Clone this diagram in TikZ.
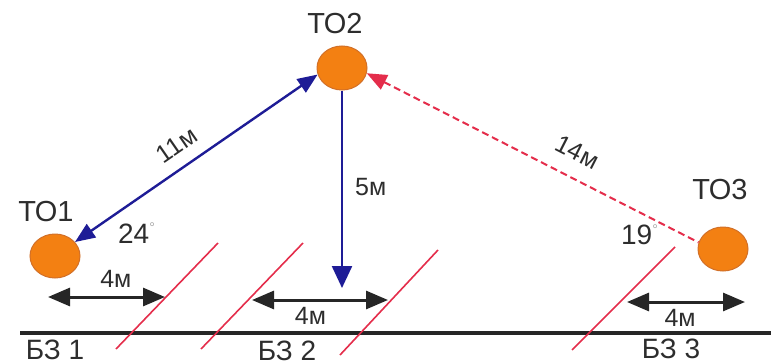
\documentclass[tikz,border=0pt]{standalone}
\usepackage{fontspec}
\setmainfont{Liberation Sans}
\usetikzlibrary{arrows.meta,positioning,shapes.geometric}
\definecolor{toOrange}{RGB}{243,128,18}
\definecolor{toEdge}{RGB}{210,112,40}
\definecolor{lnBlue}{RGB}{30,28,150}
\definecolor{lnRed}{RGB}{228,45,75}
\definecolor{txGray}{RGB}{45,45,45}

\begin{document}
\begin{tikzpicture}[
  x=0.5pt, y=-0.5pt,
  font=\fontsize{12.5}{14}\selectfont,
  tonode/.style={ellipse, fill=toOrange, draw=toEdge, line width=0.5pt,
    minimum width=25pt, minimum height=22pt, inner sep=0pt},
  lbl/.style={text=txGray, inner sep=1pt},
  bigtxt/.style={lbl, font=\fontsize{14.5}{16}\selectfont},
  way/.style={lnBlue, line width=1.2pt},
  crossln/.style={lnRed, line width=0.8pt},
  dimarrow/.style={black!85, line width=1.5pt,
    {Triangle[length=11pt,width=9pt]}-{Triangle[length=11pt,width=9pt]}}
]
\useasboundingbox (0,0) rectangle (771,364);
\def\deg{\textsuperscript{\scriptsize\color{gray!70}°}}

% points of service
\node[tonode] (to1) at (55,256) {};
\node[tonode] (to2) at (342,68) {};
\node[tonode] (to3) at (723,249) {};
\node[bigtxt] (t1) at (46,212) {ТО1};
\node[bigtxt] (t2) at (335,24) {ТО2};
\node[bigtxt] (t3) at (720,190) {ТО3};

% ground line and crossings
\draw[line width=2pt, black!85] (20,333) -- (771,333);
\foreach \a/\b/\c/\d in {116/349/218/243, 201/349/303/243,
  340/355/438/250, 572/350/675/247}
  \draw[crossln] (\a,\b) -- (\c,\d);

% routes
\draw[way, {Triangle[length=10pt,width=8pt]}-{Triangle[length=10pt,width=8pt]}]
  (to1.35) -- node[lbl, sloped, above=5pt, pos=0.47] {11м} (to2.195);
\coordinate (p5) at (342,288);
\draw[way, -{Triangle[length=11pt,width=10pt]}]
  (to2) -- node[lbl, right=5pt, pos=0.49] {5м} (p5);
\draw[lnRed, line width=1pt, dash pattern=on 3.5pt off 2pt,
  {Triangle[length=10pt,width=8pt]}-]
  (to2.-12) -- node[lbl, sloped, above=7pt, pos=0.6] {14м} (to3.165);

\node[lbl, font=\fontsize{14}{16}\selectfont] (a24) at (137,233) {24\deg};
\node[lbl, font=\fontsize{14}{16}\selectfont] (a19) at (640,235) {19\deg};

% zones
\coordinate (d1l) at (48,297);  \coordinate (d1r) at (165,297);
\coordinate (d2l) at (252,300); \coordinate (d2r) at (388,300);
\coordinate (d3l) at (627,302); \coordinate (d3r) at (745,302);
\draw[dimarrow] (d1l) -- node[lbl, above=3pt, pos=0.58] {4м} (d1r);
\draw[dimarrow] (d2l) -- node[lbl, below=2pt, pos=0.43] {4м} (d2r);
\draw[dimarrow] (d3l) -- node[lbl, below=2pt, pos=0.45] {4м} (d3r);

\node[lbl, font=\fontsize{14}{16}\selectfont] (bz1) at (55,350) {БЗ 1};
\node[lbl, font=\fontsize{14}{16}\selectfont] (bz2) at (287,351) {БЗ 2};
\node[lbl, font=\fontsize{14}{16}\selectfont] (bz3) at (671,349) {БЗ 3};
\end{tikzpicture}
\end{document}
